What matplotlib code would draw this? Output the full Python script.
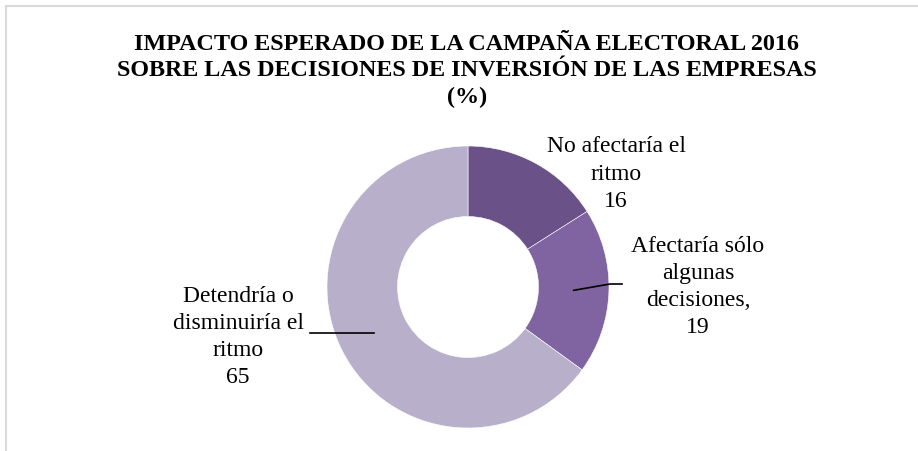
#!/usr/bin/env python3
import numpy as np
from matplotlib import pyplot as plt
from matplotlib.lines import Line2D

# data
labels = ['No afectaría el\nritmo', 'Afectaría sólo\nalgunas\ndecisiones,', 'Detendría o\ndisminuiría el\nritmo']
values = [16, 19, 65]
colors = ['#6A5187', '#8064A2', '#B8AFCB']
title = 'IMPACTO ESPERADO DE LA CAMPAÑA ELECTORAL 2016\nSOBRE LAS DECISIONES DE INVERSIÓN DE LAS EMPRESAS\n(%)'

plt.rcParams['font.family'] = ['Liberation Serif', 'DejaVu Serif']

W, H = 918, 451
fig = plt.figure(figsize=(W / 100, H / 100), dpi=100)
fig.patch.set_facecolor('white')

# pie centre / radius in pixels
cx, cy, rad = 468, 287, 141
ax = fig.add_axes([(cx - rad) / W, (H - cy - rad) / H, 2 * rad / W, 2 * rad / H])
wedges, _ = ax.pie(values, colors=colors, startangle=90, counterclock=False,
                   radius=1.0, wedgeprops=dict(width=0.5, edgecolor='white', linewidth=0.4))
ax.set_xlim(-1, 1)
ax.set_ylim(-1, 1)
ax.set_aspect('equal')
ax.axis('off')

fig.text(467 / W, 1 - 71 / H, title, ha='center', va='center', fontsize=17.4,
         fontweight='bold', linespacing=1.36)

# label positions (pixels)
label_pos = [(616, 174), (698, 287), (238, 337)]
line_end = [None, (622, 284), (310, 333)]

def px2data(x, y):
    return ((x - cx) / rad, (cy - y) / rad)

for i, (lab, val) in enumerate(zip(labels, values)):
    lx, ly = px2data(*label_pos[i])
    ax.text(lx, ly, lab + '\n' + str(val), ha='center', va='center', fontsize=17,
            linespacing=1.38, clip_on=False)
    if line_end[i] is not None:
        w = wedges[i]
        ang = np.deg2rad((w.theta1 + w.theta2) / 2)
        x0, y0 = 0.75 * np.cos(ang), 0.75 * np.sin(ang)
        ex, ey = px2data(*line_end[i])
        if ex > 0:
            pts_x = [x0, ex - 12 / rad, ex]
            pts_y = [y0, ey, ey]
        else:
            pts_x = [x0, ex]
            pts_y = [ey, ey]
        ax.add_line(Line2D(pts_x, pts_y, color='black', linewidth=1.2, clip_on=False))

# frame (top and left only)
fig.add_artist(Line2D([6 / W, 1], [1 - 6 / H, 1 - 6 / H], color='#D9D9D9', linewidth=1.5))
fig.add_artist(Line2D([6 / W, 6 / W], [0, 1 - 6 / H], color='#D9D9D9', linewidth=1.5))

fig.savefig('out.png', dpi=100, facecolor='white')
